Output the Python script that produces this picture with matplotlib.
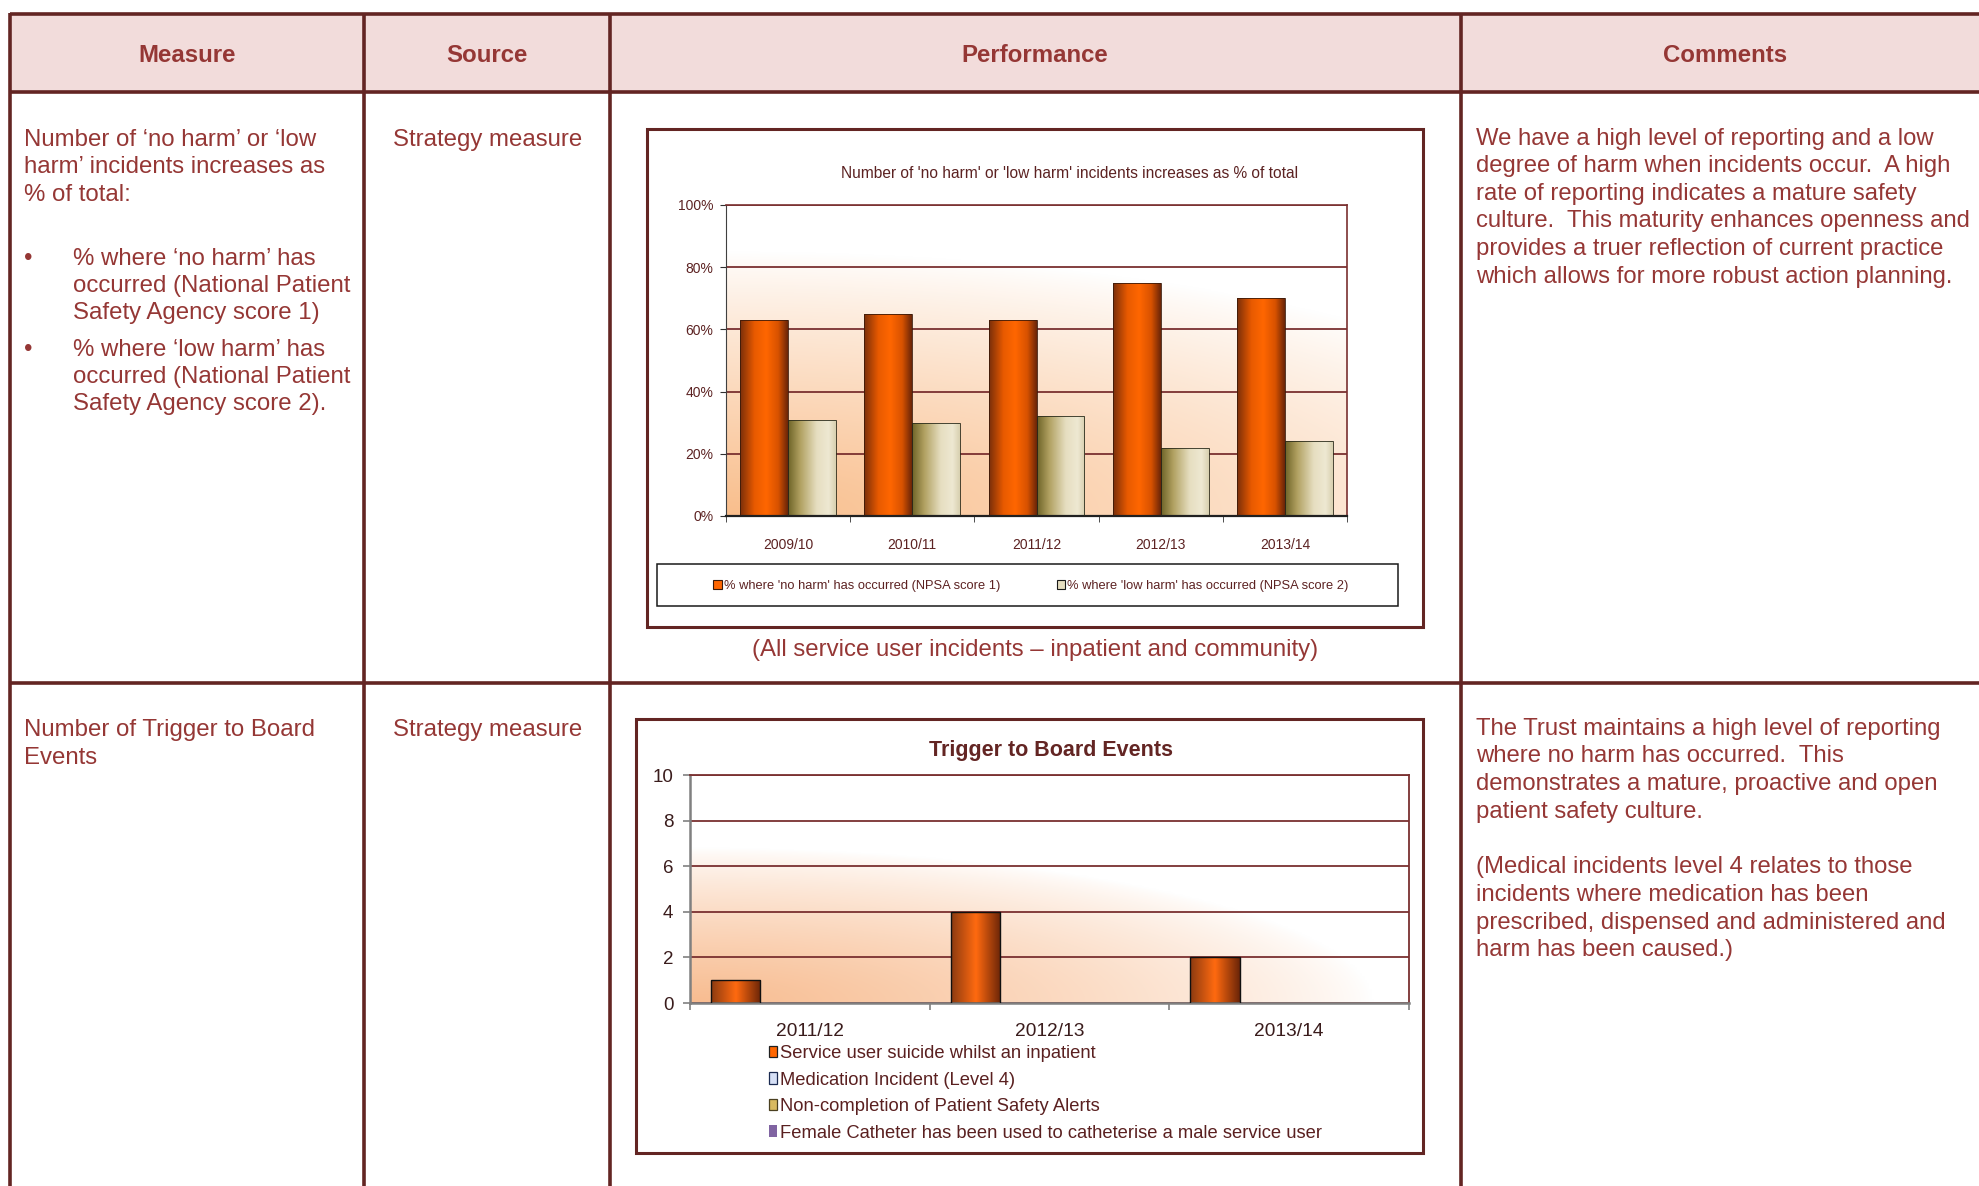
import numpy as np
import matplotlib.pyplot as plt
from matplotlib.patches import Rectangle, Patch
from matplotlib.colors import to_rgb

W, H = 1979, 1186

# table text
headers = ["Measure", "Source", "Performance", "Comments"]
measure_1 = ["Number of \u2018no harm\u2019 or \u2018low",
             "harm\u2019 incidents increases as",
             "% of total:"]
bullet_1 = ["% where \u2018no harm\u2019 has", "occurred (National Patient", "Safety Agency score 1)"]
bullet_2 = ["% where \u2018low harm\u2019 has", "occurred (National Patient", "Safety Agency score 2)."]
measure_2 = ["Number of Trigger to Board", "Events"]
source_text = "Strategy measure"
comments_1 = ["We have a high level of reporting and a low",
              "degree of harm when incidents occur.  A high",
              "rate of reporting indicates a mature safety",
              "culture.  This maturity enhances openness and",
              "provides a truer reflection of current practice",
              "which allows for more robust action planning."]
comments_2 = ["The Trust maintains a high level of reporting",
              "where no harm has occurred.  This",
              "demonstrates a mature, proactive and open",
              "patient safety culture."]
comments_3 = ["(Medical incidents level 4 relates to those",
              "incidents where medication has been",
              "prescribed, dispensed and administered and",
              "harm has been caused.)"]
caption = "(All service user incidents \u2013 inpatient and community)"

# chart 1 data
title_1 = "Number of 'no harm' or 'low harm' incidents increases as % of total"
years_1 = ["2009/10", "2010/11", "2011/12", "2012/13", "2013/14"]
no_harm = [63, 65, 63, 75, 70]
low_harm = [31, 30, 32, 22, 24]
series_1 = ["% where 'no harm' has occurred (NPSA score 1)",
            "% where 'low harm' has occurred (NPSA score 2)"]

# chart 2 data
title_2 = "Trigger to Board Events"
years_2 = ["2011/12", "2012/13", "2013/14"]
suicide = [1, 4, 2]
medication = [0, 0, 0]
safety_alerts = [0, 0, 0]
catheter = [0, 0, 0]
series_2 = ["Service user suicide whilst an inpatient",
            "Medication Incident (Level 4)",
            "Non-completion of Patient Safety Alerts",
            "Female Catheter has been used to catheterise a male service user"]

BORDER = "#632523"
HEAD_BG = "#F2DCDB"
TXT = "#953735"
CH_TXT = "#5C2222"
GRID = "#7A3030"
SANS = ["Liberation Sans", "DejaVu Sans"]
plt.rcParams["font.family"] = SANS

fig = plt.figure(figsize=(W / 100, H / 100), dpi=100)
ax0 = fig.add_axes([0, 0, 1, 1])
ax0.set_xlim(0, W)
ax0.set_ylim(H, 0)
ax0.axis("off")


def frac(x0, y0, x1, y1):
    return [x0 / W, 1 - y1 / H, (x1 - x0) / W, (y1 - y0) / H]


def put(x, yc, s, size, color=TXT, **kw):
    # yc is the visual middle of the line, convert to baseline
    ax0.text(x, yc + 0.355 * size * 100 / 72, s, fontsize=size,
             color=color, va="baseline", **kw)


# table frame
ax0.add_patch(Rectangle((10, 14), W, 78, facecolor=HEAD_BG, edgecolor="none"))
for y in [14, 92, 683]:
    ax0.plot([10, W + 5], [y, y], color=BORDER, lw=2.6, solid_capstyle="butt")
for x in [10, 364, 610, 1461]:
    ax0.plot([x, x], [13, H + 5], color=BORDER, lw=2.6, solid_capstyle="butt")

for x, s in zip([187, 487, 1035, 1725], headers):
    put(x, 53, s, 17.3, color=TXT, weight="bold", ha="center")

# measure column
for y, s in zip([137, 164, 192], measure_1):
    put(24, y, s, 17.3)
for y, s in zip([256, 283, 310], bullet_1):
    put(73, y, s, 17.3)
for y, s in zip([347, 374, 401], bullet_2):
    put(73, y, s, 17.3)
put(24, 256, "\u2022", 17.3)
put(24, 347, "\u2022", 17.3)
for y, s in zip([727, 755], measure_2):
    put(24, y, s, 17.3)

# source column
put(393, 137, source_text, 17.3)
put(393, 727, source_text, 17.3)

# comments column
for y, s in zip([137, 164, 192, 219, 247, 275], comments_1):
    put(1476, y, s, 17.2)
for y, s in zip([727, 754, 782, 810], comments_2):
    put(1476, y, s, 17.2)
for y, s in zip([865, 893, 921, 948], comments_3):
    put(1476, y, s, 17.2)

put(1035, 647, caption, 17.3, ha="center")

# chart frames
ax0.add_patch(Rectangle((647, 129), 776, 498, facecolor="white", edgecolor=BORDER, lw=2.2))
ax0.add_patch(Rectangle((657, 564), 741, 42, facecolor="white", edgecolor="#1A1A1A", lw=1.1))
ax0.add_patch(Rectangle((636, 719), 787, 434, facecolor="white", edgecolor=BORDER, lw=2.2))
put(1070, 172, title_1, 11.2, color=CH_TXT, ha="center")
put(1051, 748, title_2, 15.5, color=BORDER, weight="bold", ha="center")


def backdrop(ax, peach, sx, sy, gamma):
    xs = np.linspace(0, 1, 300)
    X, Y = np.meshgrid(xs, xs)
    t = np.clip(1 - np.sqrt((X / sx) ** 2 + (Y / sy) ** 2), 0, 1) ** gamma
    img = 1 - t[..., None] * (1 - np.array(to_rgb(peach)))
    ax.imshow(img, extent=(0, 1, 0, 1), origin="lower", transform=ax.transAxes,
              aspect="auto", zorder=0, interpolation="bilinear")


def shade(ax, bars, stops, colors):
    u = np.linspace(0, 1, 120)
    rgb = np.array([to_rgb(c) for c in colors])
    grad = np.stack([np.interp(u, stops, rgb[:, k]) for k in range(3)], axis=-1)[None, :, :]
    for b in bars:
        h = b.get_height()
        if h <= 0:
            continue
        im = ax.imshow(grad, extent=(b.get_x(), b.get_x() + b.get_width(), 0, h),
                       aspect="auto", zorder=b.get_zorder() + 0.1, interpolation="bilinear")
        im.set_clip_path(b)


ORANGE_STOPS = [0, 0.3, 0.55, 0.8, 1]
ORANGE_COLS = ["#7A2E0A", "#E85A00", "#FF6600", "#D85200", "#6B2508"]
BEIGE_STOPS = [0, 0.25, 0.6, 0.85, 1]
BEIGE_COLS = ["#6E6428", "#B0A060", "#E6DEC0", "#EEE8D2", "#D8D0B0"]

# chart 1
ax1 = fig.add_axes(frac(726, 205, 1347, 516))
backdrop(ax1, "#F9BE8C", 1.5, 0.85, 0.85)
x1 = np.arange(len(years_1))
bw1 = 0.385
b_no = ax1.bar(x1 - bw1 / 2, no_harm, bw1, color="#FF6600", lw=0, zorder=2)
b_low = ax1.bar(x1 + bw1 / 2, low_harm, bw1, color="#E6DEC0", lw=0, zorder=2)
shade(ax1, b_no, ORANGE_STOPS, ORANGE_COLS)
shade(ax1, b_low, BEIGE_STOPS, BEIGE_COLS)
ax1.bar(x1 - bw1 / 2, no_harm, bw1, facecolor="none", edgecolor="#3A1A0A", lw=0.6, zorder=3)
ax1.bar(x1 + bw1 / 2, low_harm, bw1, facecolor="none", edgecolor="#2A2A1A", lw=0.6, zorder=3)
ax1.set_xlim(-0.5, len(years_1) - 0.5)
ax1.set_ylim(0, 100)
ax1.set_xticks(x1, years_1)
ax1.set_xticks(np.arange(-0.5, len(years_1)), minor=True)
ax1.tick_params(axis="x", which="major", length=0, pad=16, labelsize=10, labelcolor=CH_TXT)
ax1.tick_params(axis="x", which="minor", length=4, color="#303030")
ax1.set_yticks(range(0, 101, 20), [f"{v}%" for v in range(0, 101, 20)])
ax1.tick_params(axis="y", length=4, pad=5, labelsize=10, labelcolor=CH_TXT, color="#303030")
ax1.yaxis.grid(True, color=GRID, lw=1.3)
ax1.set_axisbelow(True)
ax1.spines["left"].set_color("#404040")
ax1.spines["bottom"].set_color("#202020")
ax1.spines["bottom"].set_linewidth(1.6)
for s in ["top", "right"]:
    ax1.spines[s].set_color(GRID)
    ax1.spines[s].set_linewidth(1.2)
h1 = [Patch(facecolor="#FF6600", edgecolor="#3A1A0A", lw=0.8),
      Patch(facecolor="#E6DEC0", edgecolor="#1A1A1A", lw=0.8)]
ax1.legend(h1, series_1, loc="center", ncol=2, frameon=False,
           bbox_to_anchor=(1031 / W, 1 - 586 / H), bbox_transform=fig.transFigure,
           prop={"size": 9.3}, labelcolor=CH_TXT,
           handlelength=0.65, handleheight=0.75, handletextpad=0.15, columnspacing=4.4)

# chart 2
ax2 = fig.add_axes(frac(690, 775, 1409, 1003))
backdrop(ax2, "#F8BC90", 0.95, 0.68, 0.75)
x2 = np.arange(len(years_2))
bw2 = 0.206
offsets = (np.arange(4) - 1.5) * bw2
b_sui = ax2.bar(x2 + offsets[0], suicide, bw2, color="#FF6600", lw=0, zorder=2)
shade(ax2, b_sui, [0, 0.5, 1], ["#8B3A10", "#FF6A10", "#6B2508"])
all_series = [suicide, medication, safety_alerts, catheter]
for off, vals in zip(offsets, all_series):
    ax2.bar(x2 + off, vals, bw2, facecolor="none", edgecolor="#101010",
            lw=[1.0 if v > 0 else 0 for v in vals], zorder=3)
ax2.set_xlim(-0.5, len(years_2) - 0.5)
ax2.set_ylim(0, 10)
ax2.set_xticks(x2, years_2)
ax2.set_xticks(np.arange(-0.5, len(years_2)), minor=True)
ax2.tick_params(axis="x", which="major", length=0, pad=14.5, labelsize=13.8, labelcolor="#3A1C1C")
ax2.tick_params(axis="x", which="minor", length=5, color="#808080", width=1.2)
ax2.set_yticks(range(0, 11, 2))
ax2.tick_params(axis="y", length=5, pad=7, labelsize=13.5, labelcolor="#3A1C1C", color="#808080", width=1.2)
ax2.yaxis.grid(True, color=GRID, lw=1.3)
ax2.set_axisbelow(True)
for s in ["left", "bottom"]:
    ax2.spines[s].set_color("#808080")
    ax2.spines[s].set_linewidth(1.8)
for s in ["top", "right"]:
    ax2.spines[s].set_color(GRID)
    ax2.spines[s].set_linewidth(1.3)
h2 = [Patch(facecolor="#FF6600", edgecolor="#202020", lw=0.9),
      Patch(facecolor="#D6E0F6", edgecolor="#1A2A50", lw=0.9),
      Patch(facecolor="#D8BA60", edgecolor="#4A4020", lw=0.9),
      Patch(facecolor="#8064A2", edgecolor="none")]
ax2.legend(h2, series_2, loc="upper left", frameon=False,
           bbox_to_anchor=(769 / W, 1 - 1045 / H), bbox_transform=fig.transFigure,
           borderaxespad=0, borderpad=0, prop={"size": 13.2}, labelcolor="#5A2020",
           handlelength=0.42, handleheight=0.6, handletextpad=0.2, labelspacing=0.52)

fig.savefig("out.png", dpi=100, facecolor="white")
